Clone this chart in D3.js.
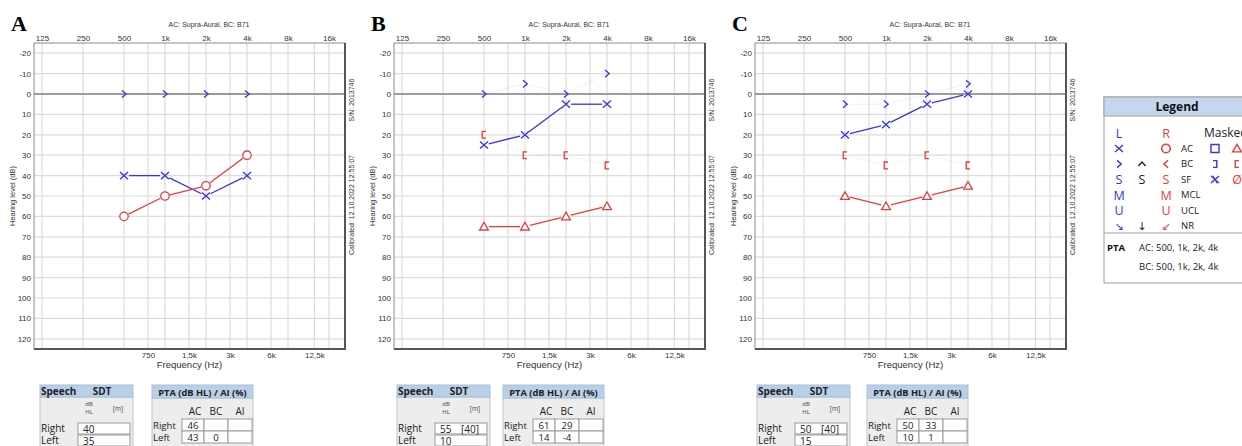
<!DOCTYPE html>
<html>
<head>
<meta charset="utf-8">
<script src="https://cdn.jsdelivr.net/npm/d3@7"></script>
<style>
  body { margin: 0; background: #fff; }
</style>
</head>
<body>
<script>
// audiogram data
var panelNames = ['A', 'B', 'C'];
var freqs = [500, 1000, 2000, 4000];
var topFreqs = [125, 250, 500, 1000, 2000, 4000, 8000, 16000];
var topLabels = ['125', '250', '500', '1k', '2k', '4k', '8k', '16k'];
var midFreqs = [750, 1500, 3000, 6000, 12500];
var midLabels = ['750', '1,5k', '3k', '6k', '12,5k'];
var dbTicks = [-20, -10, 0, 10, 20, 30, 40, 50, 60, 70, 80, 90, 100, 110, 120];

var leftAC = [[40, 40, 50, 40], [25, 20, 5, 5], [20, 15, 5, 0]];
var leftBC = [[0, 0, 0, 0], [0, -5, 0, -10], [5, 5, 0, -5]];
var rightAC = [[60, 50, 45, 30], null, null];
var rightACmasked = [null, [65, 65, 60, 55], [50, 55, 50, 45]];
var rightBCmasked = [null, [20, 30, 30, 35], [30, 35, 30, 35]];

var sdtRight = ['40', '55', '50'];
var sdtRightM = ['', '[40]', '[40]'];
var sdtLeft = ['35', '10', '15'];
var ptaRightAC = ['46', '61', '50'];
var ptaRightBC = ['', '29', '33'];
var ptaLeftAC = ['43', '14', '10'];
var ptaLeftBC = ['0', '-4', '1'];

var legendRows = ['L/R', 'AC', 'BC', 'SF', 'MCL', 'UCL', 'NR'];

var W = 1242, H = 446;
var blue = '#3535e8', red = '#e63c3c';
var chartFont = '"Liberation Sans", Arial, sans-serif';
var uiFont = '"Open Sans", "Noto Sans", sans-serif';

var frameX = [34, 394, 755];
var frameW = 311, frameTop = 43, frameBot = 349;
var speechX = [40, 397, 757];
var ptaX = [152, 503, 867];

var svg = d3.select('body').append('svg')
  .attr('width', W)
  .attr('height', H)
  .style('display', 'block');

function trimmed(pts, gap) {
  var segs = [];
  for (var i = 0; i < pts.length - 1; i++) {
    var a = pts[i], b = pts[i + 1];
    var dx = b[0] - a[0], dy = b[1] - a[1];
    var len = Math.sqrt(dx * dx + dy * dy);
    if (len < gap * 2) continue;
    var ux = dx / len, uy = dy / len;
    segs.push([a[0] + ux * gap, a[1] + uy * gap, b[0] - ux * gap, b[1] - uy * gap]);
  }
  return segs;
}

function drawLine(g, pts, color, width, opacity) {
  g.append('g').selectAll('line')
    .data(trimmed(pts, 5))
    .enter().append('line')
    .attr('x1', function(d) { return d[0]; })
    .attr('y1', function(d) { return d[1]; })
    .attr('x2', function(d) { return d[2]; })
    .attr('y2', function(d) { return d[3]; })
    .attr('stroke', color)
    .attr('stroke-width', width)
    .attr('stroke-opacity', opacity);
}

// marker shapes as path strings centred on 0,0
var shapes = {
  cross: 'M-4,-3.6L4,3.6M-4,3.6L4,-3.6',
  chevR: 'M-2,-3.6L2.2,0L-2,3.6',
  chevL: 'M2,-3.6L-2.2,0L2,3.6',
  chevU: 'M-3.6,2L0,-2L3.6,2',
  brackL: 'M2,-3.4L-1.8,-3.4L-1.8,3.4L2,3.4',
  brackR: 'M-2,-3.4L1.8,-3.4L1.8,3.4L-2,3.4',
  tri: 'M0,-4.2L4.4,3.4L-4.4,3.4Z',
  square: 'M-4,-4H4V4H-4Z'
};

function drawMarks(g, pts, shape, color) {
  g.append('g').selectAll('path')
    .data(pts)
    .enter().append('path')
    .attr('transform', function(d) { return 'translate(' + d[0] + ',' + d[1] + ')'; })
    .attr('d', shapes[shape])
    .attr('fill', shape === 'tri' ? '#fff' : 'none')
    .attr('stroke', color)
    .attr('stroke-width', 1.3);
}

function drawCircles(g, pts, color) {
  g.append('g').selectAll('circle')
    .data(pts)
    .enter().append('circle')
    .attr('cx', function(d) { return d[0]; })
    .attr('cy', function(d) { return d[1]; })
    .attr('r', 4.2)
    .attr('fill', '#fff')
    .attr('stroke', color)
    .attr('stroke-width', 1.3);
}

panelNames.forEach(function(name, p) {
  var fx = frameX[p];
  var x = d3.scaleLog().base(2).domain([109.2, 20970]).range([fx, fx + frameW]);
  var y = d3.scaleLinear().domain([-25, 125]).range([frameTop, frameBot]);
  var g = svg.append('g');

  // grid
  g.append('g').selectAll('line')
    .data(topFreqs.concat(midFreqs))
    .enter().append('line')
    .attr('x1', function(d) { return x(d); })
    .attr('x2', function(d) { return x(d); })
    .attr('y1', frameTop)
    .attr('y2', frameBot)
    .attr('stroke', '#dcdcdc')
    .attr('stroke-width', 1.2);

  g.append('g').selectAll('line')
    .data(dbTicks)
    .enter().append('line')
    .attr('x1', fx)
    .attr('x2', fx + frameW)
    .attr('y1', function(d) { return y(d); })
    .attr('y2', function(d) { return y(d); })
    .attr('stroke', function(d) { return d === 0 ? '#9c9c9c' : '#dcdcdc'; })
    .attr('stroke-width', function(d) { return d === 0 ? 2 : 1.2; });

  // frame
  g.append('rect')
    .attr('x', fx).attr('y', frameTop)
    .attr('width', frameW).attr('height', frameBot - frameTop)
    .attr('fill', 'none')
    .attr('stroke', '#8c8c8c');
  g.append('path')
    .attr('d', 'M' + (fx + frameW) + ',' + frameTop + 'V' + frameBot + 'H' + fx)
    .attr('fill', 'none')
    .attr('stroke', '#555')
    .attr('stroke-width', 2);

  // axes
  var top = g.append('g')
    .attr('transform', 'translate(0,' + frameTop + ')')
    .call(d3.axisTop(x).tickValues(topFreqs)
      .tickFormat(function(d, i) { return topLabels[i]; })
      .tickSize(0).tickPadding(2));
  var bot = g.append('g')
    .attr('transform', 'translate(0,' + frameBot + ')')
    .call(d3.axisBottom(x).tickValues(midFreqs)
      .tickFormat(function(d, i) { return midLabels[i]; })
      .tickSize(0).tickPadding(3));
  var left = g.append('g')
    .attr('transform', 'translate(' + fx + ',0)')
    .call(d3.axisLeft(y).tickValues(dbTicks)
      .tickFormat(function(d) { return String(d); })
      .tickSize(0).tickPadding(3));
  [top, bot, left].forEach(function(a) {
    a.select('.domain').remove();
    a.selectAll('text')
      .attr('font-family', chartFont)
      .attr('font-size', 8)
      .attr('fill', '#333');
  });

  // titles
  g.append('text')
    .attr('x', fx + 175).attr('y', 27)
    .attr('text-anchor', 'middle')
    .attr('font-family', chartFont).attr('font-size', 7).attr('fill', '#333')
    .text('AC: Supra-Aural, BC: B71');
  g.append('text')
    .attr('x', fx + frameW / 2).attr('y', 368)
    .attr('text-anchor', 'middle')
    .attr('font-family', chartFont).attr('font-size', 9.5).attr('fill', '#333')
    .text('Frequency (Hz)');
  g.append('text')
    .attr('transform', 'translate(' + (fx - 19.5) + ',' + ((frameTop + frameBot) / 2) + ') rotate(-90)')
    .attr('text-anchor', 'middle')
    .attr('font-family', chartFont).attr('font-size', 7.5).attr('fill', '#333')
    .text('Hearing level (dB)');
  g.append('text')
    .attr('transform', 'translate(' + (fx + frameW + 8.5) + ',100) rotate(-90)')
    .attr('text-anchor', 'middle')
    .attr('font-family', chartFont).attr('font-size', 7).attr('fill', '#333')
    .text('S/N: 2013746');
  g.append('text')
    .attr('transform', 'translate(' + (fx + frameW + 8.5) + ',205) rotate(-90)')
    .attr('text-anchor', 'middle')
    .attr('font-family', chartFont).attr('font-size', 7).attr('fill', '#333')
    .text('Calibrated: 12.10.2022 12:55:07');

  g.append('text')
    .attr('x', fx - 23).attr('y', 31)
    .attr('font-family', '"Liberation Serif", "Times New Roman", serif')
    .attr('font-size', 22).attr('font-weight', 'bold').attr('fill', '#000')
    .text(name);

  // series
  function pts(vals) {
    return vals.map(function(v, i) { return [x(freqs[i]), y(v)]; });
  }
  var lbc = pts(leftBC[p]);
  drawLine(g, lbc, blue, 1, 0.08);
  if (rightBCmasked[p]) drawLine(g, pts(rightBCmasked[p]), red, 1, 0.08);

  var lac = pts(leftAC[p]);
  drawLine(g, lac, blue, 1.3, 1);
  if (rightAC[p]) drawLine(g, pts(rightAC[p]), red, 1.3, 1);
  if (rightACmasked[p]) drawLine(g, pts(rightACmasked[p]), red, 1.3, 1);

  drawMarks(g, lbc, 'chevR', blue);
  drawMarks(g, lac, 'cross', blue);
  if (rightAC[p]) drawCircles(g, pts(rightAC[p]), red);
  if (rightBCmasked[p]) drawMarks(g, pts(rightBCmasked[p]), 'brackL', red);
  if (rightACmasked[p]) drawMarks(g, pts(rightACmasked[p]), 'tri', red);

  // speech table
  var sx = speechX[p];
  var t = svg.append('g').attr('font-family', uiFont).attr('fill', '#222');
  t.append('rect').attr('x', sx).attr('y', 397).attr('width', 93).attr('height', 60)
    .attr('fill', '#ededed').attr('stroke', '#c4c4c4');
  t.append('rect').attr('x', sx).attr('y', 385).attr('width', 93).attr('height', 12)
    .attr('fill', '#b9cfe8').attr('stroke', '#a9c0dc');
  t.append('text').attr('x', sx + 1).attr('y', 395).attr('font-size', 10).attr('font-weight', 'bold').text('Speech');
  t.append('text').attr('x', sx + 62).attr('y', 395).attr('font-size', 10).attr('font-weight', 'bold')
    .attr('text-anchor', 'middle').text('SDT');
  t.append('text').attr('x', sx + 49).attr('y', 406).attr('font-size', 6).attr('text-anchor', 'middle').attr('fill', '#444').text('dB');
  t.append('text').attr('x', sx + 49).attr('y', 414).attr('font-size', 6).attr('text-anchor', 'middle').attr('fill', '#444').text('HL');
  t.append('text').attr('x', sx + 78).attr('y', 411).attr('font-size', 6.5).attr('text-anchor', 'middle').attr('fill', '#444').text('[m]');
  [[423, 'Right', sdtRight[p], sdtRightM[p]], [435, 'Left', sdtLeft[p], '']].forEach(function(r) {
    t.append('rect').attr('x', sx + 38).attr('y', r[0]).attr('width', 52).attr('height', 11)
      .attr('fill', '#fff').attr('stroke', '#9a9a9a');
    t.append('text').attr('x', sx + 1).attr('y', r[0] + 9).attr('font-size', 10).text(r[1]);
    t.append('text').attr('x', sx + 43).attr('y', r[0] + 9.5).attr('font-size', 10).text(r[2]);
    t.append('text').attr('x', sx + 64).attr('y', r[0] + 9.5).attr('font-size', 10).text(r[3]);
  });

  // PTA table
  var px = ptaX[p];
  t.append('rect').attr('x', px).attr('y', 398).attr('width', 101).attr('height', 60)
    .attr('fill', '#ededed').attr('stroke', '#c4c4c4');
  t.append('rect').attr('x', px).attr('y', 385).attr('width', 101).attr('height', 13)
    .attr('fill', '#b9cfe8').attr('stroke', '#a9c0dc');
  t.append('text').attr('x', px + 50.5).attr('y', 395.5).attr('font-size', 9.3).attr('font-weight', 'bold')
    .attr('text-anchor', 'middle').text('PTA (dB HL) / AI (%)');
  [['AC', 43], ['BC', 64], ['AI', 88]].forEach(function(h) {
    t.append('text').attr('x', px + h[1]).attr('y', 415).attr('font-size', 10)
      .attr('text-anchor', 'middle').text(h[0]);
  });
  var cols = [30, 52, 76, 100];
  [[419, 'Right', ptaRightAC[p], ptaRightBC[p]], [431, 'Left', ptaLeftAC[p], ptaLeftBC[p]]].forEach(function(r) {
    t.append('text').attr('x', px + 1).attr('y', r[0] + 9.5).attr('font-size', 9.6).text(r[1]);
    for (var c = 0; c < 3; c++) {
      t.append('rect').attr('x', px + cols[c]).attr('y', r[0])
        .attr('width', cols[c + 1] - cols[c]).attr('height', 12)
        .attr('fill', '#fff').attr('stroke', '#9a9a9a');
    }
    t.append('text').attr('x', px + (cols[0] + cols[1]) / 2).attr('y', r[0] + 10)
      .attr('font-size', 9.6).attr('text-anchor', 'middle').text(r[2]);
    t.append('text').attr('x', px + (cols[1] + cols[2]) / 2).attr('y', r[0] + 10)
      .attr('font-size', 9.6).attr('text-anchor', 'middle').text(r[3]);
  });
});

// legend
var lx = 1104, ly = 97, lw = 146, lh = 186;
var lg = svg.append('g').attr('font-family', uiFont);
lg.append('rect').attr('x', lx).attr('y', ly).attr('width', lw).attr('height', lh)
  .attr('fill', '#fff').attr('stroke', '#a0a0a0');
lg.append('rect').attr('x', lx).attr('y', ly).attr('width', lw).attr('height', 19)
  .attr('fill', '#c4d7ee').attr('stroke', '#a0a0a0');
lg.append('text').attr('x', lx + 73).attr('y', ly + 14).attr('text-anchor', 'middle')
  .attr('font-size', 12).attr('font-weight', 'bold').attr('fill', '#111').text('Legend');
lg.append('line').attr('x1', lx).attr('x2', lx + lw).attr('y1', 233).attr('y2', 233)
  .attr('stroke', '#a0a0a0');

var c1 = 1119, c2 = 1142, c3 = 1166, cLab = 1181, c5 = 1215, c6 = 1237;
var rowY = legendRows.map(function(d, i) { return 133 + 15.5 * i; });

function ltext(xp, yp, s, color, size, anchor) {
  lg.append('text').attr('x', xp).attr('y', yp).attr('dy', '0.36em')
    .attr('text-anchor', anchor || 'middle')
    .attr('font-size', size).attr('fill', color).text(s);
}
function lshape(xp, yp, shape, color) {
  lg.append('path').attr('transform', 'translate(' + xp + ',' + yp + ')')
    .attr('d', shapes[shape]).attr('fill', 'none')
    .attr('stroke', color).attr('stroke-width', 1.4);
}

ltext(c1, rowY[0], 'L', blue, 12.5);
ltext(c3, rowY[0], 'R', red, 12.5);
ltext(1204, rowY[0], 'Masked', '#222', 12, 'start');

lshape(c1, rowY[1], 'cross', blue);
lg.append('circle').attr('cx', c3).attr('cy', rowY[1]).attr('r', 4.3)
  .attr('fill', 'none').attr('stroke', red).attr('stroke-width', 1.6);
lshape(c5, rowY[1], 'square', blue);
lshape(c6, rowY[1], 'tri', red);

lshape(c1, rowY[2], 'chevR', blue);
lshape(c2, rowY[2], 'chevU', '#222');
lshape(c3, rowY[2], 'chevL', red);
lshape(c5, rowY[2], 'brackR', blue);
lshape(c6, rowY[2], 'brackL', red);

ltext(c1, rowY[3], 'S', blue, 12.5);
ltext(c2, rowY[3], 'S', '#222', 12.5);
ltext(c3, rowY[3], 'S', red, 12.5);
lshape(c5, rowY[3], 'cross', blue);
lg.append('path').attr('d', 'M' + (c5 - 2) + ',' + (rowY[3] - 4) + 'L' + (c5 + 2) + ',' + (rowY[3] + 4))
  .attr('stroke', blue).attr('stroke-width', 1);
ltext(c6, rowY[3], 'Ø', red, 12.5);

ltext(c1, rowY[4], 'M', blue, 12.5);
ltext(c3, rowY[4], 'M', red, 12.5);
ltext(c1, rowY[5], 'U', blue, 12.5);
ltext(c3, rowY[5], 'U', red, 12.5);

lg.append('text').attr('x', c1).attr('y', rowY[6]).attr('dy', '0.36em').attr('text-anchor', 'middle')
  .attr('font-family', '"DejaVu Sans", sans-serif').attr('font-size', 11).attr('fill', blue).text('↘');
lg.append('text').attr('x', c2).attr('y', rowY[6]).attr('dy', '0.36em').attr('text-anchor', 'middle')
  .attr('font-family', '"DejaVu Sans", sans-serif').attr('font-size', 11).attr('fill', '#222').text('↓');
lg.append('text').attr('x', c3).attr('y', rowY[6]).attr('dy', '0.36em').attr('text-anchor', 'middle')
  .attr('font-family', '"DejaVu Sans", sans-serif').attr('font-size', 11).attr('fill', red).text('↙');

legendRows.slice(1).forEach(function(s, i) {
  ltext(cLab, rowY[i + 1], s, '#222', 9.5, 'start');
});

lg.append('text').attr('x', lx + 3).attr('y', 251).attr('font-size', 9.5).attr('font-weight', 'bold')
  .attr('fill', '#111').text('PTA');
lg.append('text').attr('x', 1139).attr('y', 251).attr('font-size', 9.5).attr('fill', '#222')
  .text('AC: 500, 1k, 2k, 4k');
lg.append('text').attr('x', 1139).attr('y', 270).attr('font-size', 9.5).attr('fill', '#222')
  .text('BC: 500, 1k, 2k, 4k');
</script>
</body>
</html>
